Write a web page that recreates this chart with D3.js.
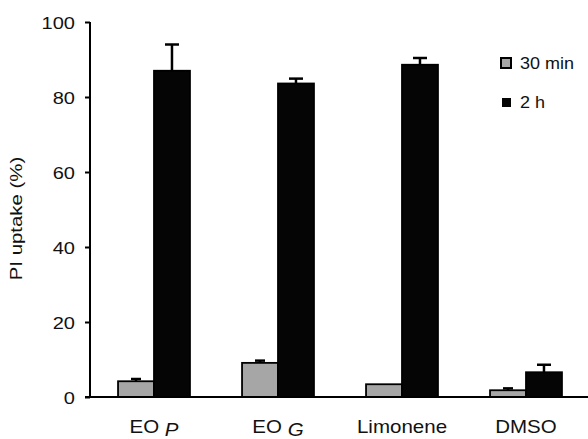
<!DOCTYPE html>
<html>
<head>
<meta charset="utf-8">
<script src="https://cdn.jsdelivr.net/npm/d3@7"></script>
<style>
  body { margin: 0; background: #fff; }
  svg { font-family: "Liberation Sans", Arial, sans-serif; }
</style>
</head>
<body>
<div id="chart"></div>
<script>
// --- Data ---
const categories = ["EO P", "EO G", "Limonene", "DMSO"];
const series = ["30 min", "2 h"];
const values30min = [4.2, 9.1, 3.4, 1.8];
const errors30min = [0.6, 0.6, 0, 0.5];
const values2h = [87, 83.6, 88.6, 6.6];
const errors2h = [7, 1.3, 1.8, 2.0];
const yTicks = [0, 20, 40, 60, 80, 100];

const W = 588, H = 439;
const margin = { top: 22, right: 0, bottom: 42, left: 90 };
const fills = ["#a6a6a6", "#050505"];
const TEXT = "#111";

const svg = d3.select("#chart").append("svg")
    .attr("width", W)
    .attr("height", H);

const y = d3.scaleLinear().domain([0, 100]).range([H - margin.bottom, margin.top]);
const x = d3.scaleBand().domain(categories).range([margin.left + 2, W]).paddingInner(0.42).paddingOuter(0.21);
const xs = d3.scaleBand().domain(series).range([0, x.bandwidth()]);

// text in the original is a bit wider than Arial, so stretch horizontally
function wideText(parent, tx, ty, size, sx, anchor, rot) {
    const g = parent.append("g")
        .attr("transform", `translate(${tx},${ty})` + (rot ? ` rotate(${rot})` : "") + ` scale(${sx},1)`);
    return g.append("text")
        .attr("text-anchor", anchor)
        .attr("font-size", size)
        .attr("fill", TEXT);
}

// --- Bars ---
const rows = categories.map((c, i) => ({
    cat: c,
    vals: [
        { s: series[0], v: values30min[i], e: errors30min[i] },
        { s: series[1], v: values2h[i], e: errors2h[i] }
    ]
}));

const groups = svg.append("g").selectAll("g")
    .data(rows)
    .join("g")
    .attr("transform", d => `translate(${x(d.cat)},0)`);

// error bars (drawn first so bar outline sits on top)
groups.selectAll("g.err")
    .data(d => d.vals.filter(v => v.e > 0))
    .join("g")
    .attr("class", "err")
    .each(function (d) {
        const g = d3.select(this);
        const cx = xs(d.s) + xs.bandwidth() / 2;
        const capW = d.s === "2 h" ? 14 : 10;
        g.append("line")
            .attr("x1", cx).attr("x2", cx)
            .attr("y1", y(d.v)).attr("y2", y(d.v + d.e))
            .attr("stroke", "#000").attr("stroke-width", 2.5);
        g.append("line")
            .attr("x1", cx - capW / 2).attr("x2", cx + capW / 2)
            .attr("y1", y(d.v + d.e)).attr("y2", y(d.v + d.e))
            .attr("stroke", "#000").attr("stroke-width", 2.5);
    });

groups.selectAll("rect")
    .data(d => d.vals)
    .join("rect")
    .attr("x", d => xs(d.s))
    .attr("y", d => y(d.v))
    .attr("width", xs.bandwidth())
    .attr("height", d => y(0) - y(d.v))
    .attr("fill", (d, i) => fills[i])
    .attr("stroke", "#000")
    .attr("stroke-width", 1.8);

// --- Axes ---
const yAxis = svg.append("g")
    .attr("transform", `translate(${margin.left},0)`)
    .call(d3.axisLeft(y).tickValues(yTicks).tickSize(5).tickFormat(""));
yAxis.select(".domain").attr("stroke-width", 2).attr("d", `M0,${y(100)}V${y(0)}`);
yAxis.selectAll(".tick line").attr("stroke-width", 2);

// tick labels (stretched)
yTicks.forEach(t => {
    wideText(svg, 75, y(t) + 6.5, 17, 1.18, "end").text(t);
});

svg.append("line")
    .attr("x1", margin.left - 5).attr("x2", W)
    .attr("y1", y(0)).attr("y2", y(0))
    .attr("stroke", "#000").attr("stroke-width", 2);

// x labels: "EO" + italic lowered letter
categories.forEach(d => {
    const t = wideText(svg, x(d) + x.bandwidth() / 2, 433, 18, 1.14, "middle");
    const parts = d.split(" ");
    if (parts.length === 2) {
        t.append("tspan").text(parts[0] + " ");
        t.append("tspan").attr("font-style", "italic").attr("dy", 3).text(parts[1]);
    } else {
        t.text(d);
    }
});

// y label
wideText(svg, 22, (y(0) + y(100)) / 2 + 9, 17, 1.2, "middle", -90).text("PI uptake (%)");

// --- Legend ---
const legend = svg.append("g");
legend.append("rect")
    .attr("x", 501).attr("y", 58).attr("width", 10).attr("height", 10)
    .attr("fill", fills[0]).attr("stroke", "#000").attr("stroke-width", 2);
legend.append("rect")
    .attr("x", 502).attr("y", 98).attr("width", 9).attr("height", 9)
    .attr("fill", fills[1]);
wideText(legend, 520, 69, 17, 1.06, "start").text(series[0]);
wideText(legend, 520, 108, 17, 1.06, "start").text(series[1]);
</script>
</body>
</html>
